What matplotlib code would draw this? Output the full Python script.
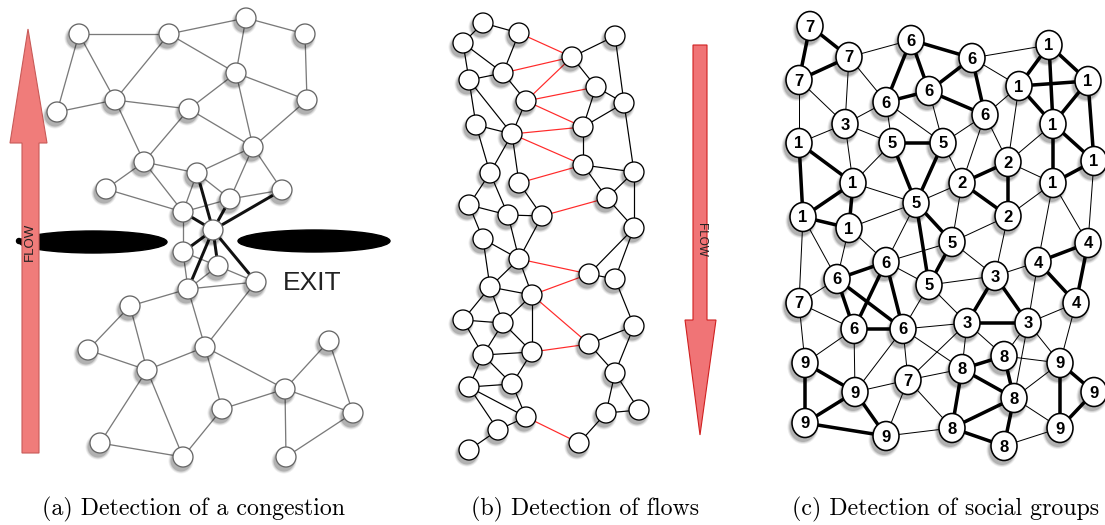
import numpy as np
import matplotlib
matplotlib.use("Agg")
import matplotlib.pyplot as plt
from matplotlib.patches import Ellipse, Polygon

# ---- panel (a): congestion graph, node pixel positions ----
a_x = [79, 169, 246, 305, 236, 115, 57, 189, 307, 253, 144, 197, 106, 230, 282, 183,
       213, 183, 218, 188, 256, 130, 88, 205, 147, 329, 285, 222, 353, 100, 183, 286]
a_y = [34, 34, 18, 34, 73, 100, 112, 109, 100, 147, 162, 173, 189, 199, 190, 212,
       230, 252, 266, 289, 282, 306, 350, 347, 370, 341, 389, 409, 413, 443, 457, 457]
a_thin = [(0, 1), (0, 5), (0, 6), (1, 2), (2, 3), (2, 4), (1, 4), (1, 5), (3, 8), (4, 7),
          (4, 8), (4, 9), (5, 6), (5, 7), (5, 10), (7, 10), (7, 9), (8, 9), (9, 11), (9, 13),
          (9, 14), (10, 12), (10, 11), (10, 15), (12, 15), (11, 13), (15, 13), (13, 14),
          (11, 15), (15, 17), (17, 19), (17, 18), (18, 19), (18, 20), (19, 20), (19, 21),
          (21, 22), (21, 24), (22, 24), (24, 23), (19, 23), (20, 23), (23, 27), (23, 26),
          (24, 29), (24, 30), (29, 30), (30, 27), (27, 26), (26, 25), (26, 28), (25, 28),
          (26, 31), (31, 28)]
a_thick = [(16, 11), (16, 13), (16, 14), (16, 15), (16, 17), (16, 19), (16, 20), (16, 18)]

# ---- panel (b): flows graph (edges numbered from 1) ----
b_x = [483, 519, 463, 615, 572, 503, 469, 596, 624, 526, 476, 583, 512, 583, 634, 490,
       519, 607, 469, 508, 542, 634, 483, 519, 589, 615, 490, 532, 463, 503, 634, 589,
       483, 532, 615, 469, 512, 606, 639, 526, 498, 579, 469]
b_y = [23, 33, 43, 36, 57, 73, 80, 87, 103, 101, 125, 127, 134, 165, 172, 173,
       183, 198, 205, 215, 216, 228, 239, 259, 274, 279, 287, 295, 320, 323, 326, 344,
       355, 352, 373, 387, 384, 413, 410, 417, 430, 443, 450]
b_black = [(1, 2), (1, 3), (3, 7), (3, 6), (2, 6), (6, 7), (6, 10), (7, 11), (7, 13), (10, 13),
           (11, 13), (11, 16), (13, 16), (13, 17), (16, 19), (16, 20), (17, 21), (19, 20),
           (20, 21), (19, 23), (20, 24), (21, 24), (23, 24), (23, 27), (24, 27), (24, 28),
           (27, 28), (27, 29), (27, 30), (28, 30), (28, 34), (29, 30), (29, 33), (30, 33),
           (30, 34), (33, 34), (33, 36), (33, 37), (34, 37), (36, 37), (36, 40), (36, 41),
           (37, 40), (40, 41), (43, 41), (4, 5), (4, 9), (5, 8), (8, 9), (8, 12), (9, 12),
           (9, 15), (12, 14), (14, 15), (14, 18), (15, 18), (15, 22), (18, 22), (22, 25),
           (22, 26), (25, 26), (26, 31), (31, 32), (31, 35), (32, 35), (35, 38), (35, 39),
           (38, 39), (38, 42)]
b_red = [(2, 5), (6, 5), (10, 5), (10, 8), (10, 12), (13, 12), (13, 14), (17, 14), (21, 18),
         (24, 25), (28, 25), (28, 32), (34, 32), (40, 42)]

# ---- panel (c): social groups graph ----
c_x = [810, 849, 799, 911, 972, 929, 886, 985, 1049, 1019, 1088, 1053, 845, 799, 892, 943,
       1008, 1094, 853, 962, 1053, 916, 1008, 803, 849, 952, 1088, 1038, 886, 837, 995, 929,
       799, 1076, 854, 903, 967, 1028, 805, 1004, 962, 1060, 908, 855, 1094, 1014, 805, 886,
       952, 1060, 1004]
c_y = [26, 57, 80, 40, 58, 91, 102, 115, 45, 86, 81, 124, 124, 143, 143, 143,
       162, 161, 183, 183, 183, 203, 216, 217, 228, 242, 243, 262, 262, 279, 276, 285,
       303, 303, 329, 329, 323, 323, 363, 356, 369, 363, 380, 392, 392, 398, 423, 436,
       428, 428, 446]
c_lab = ["7", "7", "7", "6", "6", "6", "6", "6", "1", "1", "1", "1", "3", "1", "5", "5",
         "2", "1", "1", "2", "1", "5", "2", "1", "1", "5", "4", "4", "6", "6", "3", "5",
         "7", "4", "6", "6", "3", "3", "9", "8", "8", "9", "7", "9", "9", "8", "9", "9",
         "8", "9", "8"]
c_thick = [(0, 1), (0, 2), (1, 2), (3, 4), (3, 6), (3, 5), (5, 4), (5, 6), (5, 7), (4, 7),
           (8, 9), (8, 10), (8, 11), (9, 10), (9, 11), (10, 11), (11, 17), (10, 17), (17, 20),
           (11, 20), (14, 15), (14, 21), (15, 21), (21, 25), (21, 31), (25, 31), (16, 19),
           (16, 22), (19, 22), (13, 18), (13, 23), (18, 23), (18, 24), (23, 24), (26, 27),
           (26, 33), (27, 33), (28, 29), (28, 34), (28, 35), (29, 34), (29, 35), (34, 35),
           (30, 36), (30, 37), (36, 37), (38, 43), (38, 46), (43, 46), (43, 47), (46, 47),
           (39, 40), (39, 45), (40, 45), (40, 48), (45, 48), (45, 50), (48, 50), (41, 44),
           (41, 49), (44, 49)]
c_thin = [(1, 3), (4, 8), (2, 12), (1, 12), (1, 6), (2, 13), (6, 12), (12, 13), (12, 14),
          (12, 18), (6, 14), (6, 15), (5, 15), (7, 15), (7, 9), (7, 16), (7, 19), (9, 16),
          (4, 9), (15, 19), (16, 11), (16, 20), (22, 20), (18, 14), (18, 21), (21, 24),
          (21, 19), (22, 25), (19, 25), (20, 27), (20, 26), (17, 26), (24, 29), (24, 28),
          (28, 25), (28, 31), (28, 21), (25, 30), (31, 30), (31, 36), (31, 35), (32, 29),
          (32, 34), (32, 38), (23, 32), (23, 29), (34, 38), (34, 43), (35, 43), (35, 42),
          (35, 36), (35, 40), (36, 42), (36, 40), (36, 39), (37, 39), (37, 45), (37, 41),
          (37, 33), (30, 27), (27, 37), (33, 41), (42, 43), (42, 47), (42, 40), (42, 48),
          (47, 48), (50, 49), (45, 49), (45, 41), (39, 41), (30, 22)]

captions = ["(a) Detection of a congestion", "(b) Detection of flows",
            "(c) Detection of social groups"]
cap_x = [193, 585, 946]

PX = 0.72  # one pixel in points at dpi 100

fig = plt.figure(figsize=(11.05, 5.25), dpi=100)
ax = fig.add_axes([0, 0, 1, 1])
ax.set_xlim(0, 1105)
ax.set_ylim(525, 0)
ax.axis("off")


def draw_edges(xs, ys, edges, color, lw, base=0, z=2):
    for i, j in edges:
        i, j = i - base, j - base
        ax.plot([xs[i], xs[j]], [ys[i], ys[j]], color=color, lw=lw * PX,
                solid_capstyle="round", zorder=z)


def draw_nodes(xs, ys, w, h, ec, lw):
    for x, y in zip(xs, ys):
        # soft drop shadow
        for k, a in [(5, 0.07), (3, 0.1), (1, 0.16)]:
            ax.add_patch(Ellipse((x - 2, y + 4), w + k, h + k, color="black",
                                 alpha=a, lw=0, zorder=3))
        ax.add_patch(Ellipse((x, y), w, h, facecolor="white", edgecolor=ec,
                             lw=lw * PX, zorder=4))


# ---------- panel (a) ----------
ax.add_patch(Ellipse((93, 242), 148, 22, color="black", zorder=1))
ax.add_patch(Ellipse((314, 241), 152, 22, color="black", zorder=1))
ax.add_patch(Ellipse((19, 241), 5, 5, color="black", zorder=1))
arrow_a = [(22, 453), (39, 453), (39, 143), (47, 143), (28, 29), (10, 143), (22, 143)]
ax.add_patch(Polygon(arrow_a, closed=True, facecolor="#f07c7a", edgecolor="#c85a58",
                     lw=0.8, zorder=1.5))
ax.text(30, 242, "FLOW", rotation=90, ha="center", va="center", fontsize=9.5,
        family="Liberation Sans", color="#222222", zorder=2)
ax.text(283, 283, "EXIT", ha="left", va="center", fontsize=19,
        family="Liberation Sans", color="#222222")
draw_edges(a_x, a_y, a_thin, "#7a7a7a", 1.3)
draw_edges(a_x, a_y, a_thick, "#111111", 3.0)
draw_nodes(a_x, a_y, 20, 20, "#666666", 1.3)

# ---------- panel (b) ----------
arrow_b = [(693, 45), (707, 45), (707, 320), (716, 320), (700, 435), (685, 320), (693, 320)]
ax.add_patch(Polygon(arrow_b, closed=True, facecolor="#f07476", edgecolor="#d02020",
                     lw=0.8, zorder=1.5))
ax.text(701, 240, "FLOW", rotation=-90, ha="center", va="center", fontsize=8.5,
        family="Liberation Sans", color="#222222", zorder=2)
draw_edges(b_x, b_y, b_black, "black", 1.2, base=1)
draw_edges(b_x, b_y, b_red, "#ff2a2a", 1.2, base=1)
draw_nodes(b_x, b_y, 20, 20, "black", 1.3)

# ---------- panel (c) ----------
draw_edges(c_x, c_y, c_thin, "black", 1.0)
draw_edges(c_x, c_y, c_thick, "black", 3.5)
draw_nodes(c_x, c_y, 26, 29, "black", 1.6)
for x, y, t in zip(c_x, c_y, c_lab):
    ax.text(x, y + 1, t, ha="center", va="center", fontsize=12, fontweight="bold",
            family="Liberation Sans", zorder=5)

# ---------- captions ----------
for x, t in zip(cap_x, captions):
    ax.text(x, 509, t, ha="center", va="center", fontsize=17.2, family="cmr10")

fig.savefig("out.png", dpi=100)
